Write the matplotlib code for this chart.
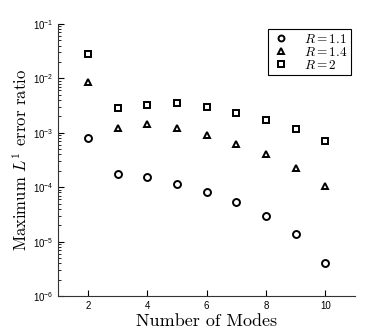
import numpy as np
import matplotlib
matplotlib.use("Agg")
import matplotlib.pyplot as plt

plt.rcParams['mathtext.fontset'] = 'cm'
plt.rcParams['font.family'] = ['Liberation Sans', 'DejaVu Sans']

modes = [2, 3, 4, 5, 6, 7, 8, 9, 10]
err_r11 = [8.1e-4, 1.75e-4, 1.56e-4, 1.15e-4, 8.0e-5, 5.3e-5, 3.0e-5, 1.4e-5, 4.1e-6]
err_r14 = [8.7e-3, 1.24e-3, 1.45e-3, 1.24e-3, 9.1e-4, 6.2e-4, 4.1e-4, 2.3e-4, 1.07e-4]
err_r2 = [2.8e-2, 2.8e-3, 3.3e-3, 3.6e-3, 3.0e-3, 2.3e-3, 1.7e-3, 1.15e-3, 7.0e-4]
labels = ['$R = 1.1$', '$R = 1.4$', '$R = 2$']

fig = plt.figure(figsize=(3.75, 3.33), dpi=100)
ax = fig.add_axes([0.155, 0.111, 0.792, 0.817])

style = dict(mfc='none', mec='black', mew=1.4, ls='none', ms=5)
ax.plot(modes, err_r11, marker='o', label=labels[0], **style)
ax.plot(modes, err_r14, marker='^', label=labels[1], **style)
ax.plot(modes, err_r2, marker='s', label=labels[2], **style)

ax.set_yscale('log')
ax.set_xlim(1, 11)
ax.set_ylim(1e-6, 1e-1)
ax.set_xticks([2, 4, 6, 8, 10])
ax.spines['top'].set_visible(False)
ax.spines['right'].set_visible(False)
for s in ['left', 'bottom']:
    ax.spines[s].set_linewidth(0.8)
    ax.spines[s].set_color('#333333')
ax.tick_params(which='both', direction='in', labelsize=7, top=False, right=False)
ax.tick_params(which='major', length=4)
ax.tick_params(which='minor', length=2)

ax.set_xlabel('Number of Modes', fontfamily='cmr10', fontsize=13, labelpad=2)
ax.set_ylabel('Maximum $L^1$ error ratio', fontfamily='cmr10', fontsize=12, labelpad=2)

leg = ax.legend(loc='upper right', bbox_to_anchor=(0.985, 0.98), fontsize=9.5,
                handlelength=1.6, handletextpad=0.9, labelspacing=0.0,
                borderpad=0.25, borderaxespad=0, markerscale=0.85,
                fancybox=False, edgecolor='black', framealpha=1)
leg.get_frame().set_linewidth(0.8)

fig.savefig('out.png', dpi=100)
